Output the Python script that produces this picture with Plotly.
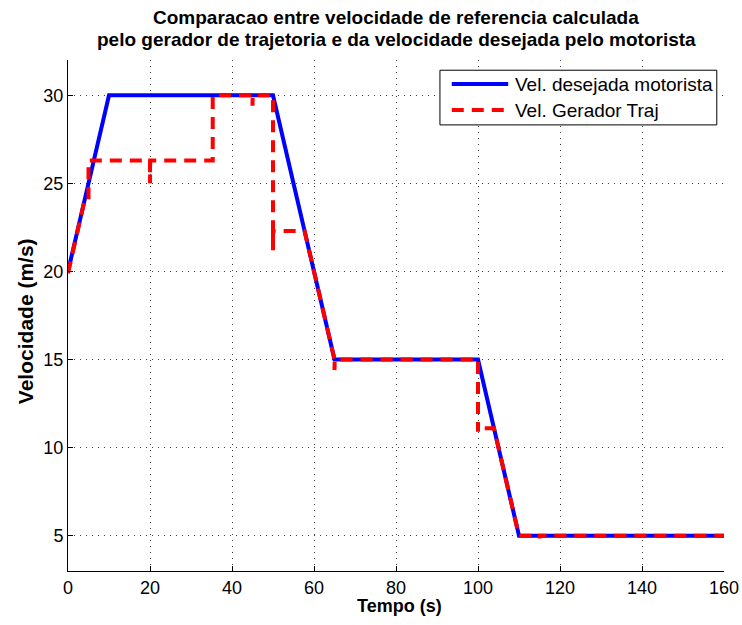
import plotly.graph_objects as go

# Driver's desired speed profile (time in s, speed in m/s)
t_motorista = [0, 10, 50, 65, 100, 110, 160]
v_motorista = [20, 30, 30, 15, 15, 5, 5]

# Reference speed produced by the trajectory generator
t_gerador = [0, 4.0, 5.0, 5.0, 20.0, 20.0, 20.05, 35.3, 35.3, 45.0, 45.0, 45.05, 50.0,
             50.0, 50.0, 57.7, 65.0, 65.0, 65.05, 100.0, 100.0, 100.0, 103.9, 110.0,
             115.0, 115.0, 115.05, 160.0]
v_gerador = [19.9, 24.0, 24.0, 26.3, 26.3, 25.0, 26.3, 26.3, 30.0, 30.0, 29.4, 30.0, 30.0,
             21.2, 22.3, 22.3, 15.0, 14.4, 15.0, 15.0, 10.9, 11.1, 11.1, 5.0,
             5.0, 4.85, 5.0, 5.0]

x_ticks = [0, 20, 40, 60, 80, 100, 120, 140, 160]
y_ticks = [5, 10, 15, 20, 25, 30]

title_lines = ["Comparacao entre velocidade de referencia calculada",
               "pelo gerador de trajetoria e da velocidade desejada pelo motorista"]
x_label = "Tempo (s)"
y_label = "Velocidade (m/s)"
legend_names = ["Vel. desejada motorista", "Vel. Gerador Traj"]

FONT = "Liberation Sans, Arial, Helvetica, sans-serif"
BLUE = "#0000ff"
RED = "#ff0000"
RED_DASH = "12px,8px"

fig = go.Figure()
fig.add_trace(go.Scatter(
    x=t_motorista, y=v_motorista, mode="lines",
    name=legend_names[0], showlegend=False,
    line=dict(color=BLUE, width=4),
))
fig.add_trace(go.Scatter(
    x=t_gerador, y=v_gerador, mode="lines",
    name=legend_names[1], showlegend=False,
    line=dict(color=RED, width=4, dash=RED_DASH),
))

axis_common = dict(
    showline=True, linecolor="black", linewidth=1,
    ticks="inside", ticklen=5, tickcolor="black",
    showgrid=True, gridcolor="rgba(0,0,0,0.75)", gridwidth=1, griddash="1px,5px",
    zeroline=False, mirror=False, automargin=False,
    tickfont=dict(family=FONT, size=18, color="black"),
)

# Two-line title and axis labels placed as annotations
annotations = [
    dict(text=f"<b>{title_lines[0]}</b>", x=0.5, y=1.083, font_size=19),
    dict(text=f"<b>{title_lines[1]}</b>", x=0.5, y=1.040, font_size=19),
    dict(text=f"<b>{x_label}</b>", x=0.506, y=-0.0685, font_size=18),
    dict(text=f"<b>{y_label}</b>", x=-0.0655, y=0.489, textangle=-90, font_size=21),
]
for a in annotations:
    size = a.pop("font_size")
    a.update(xref="paper", yref="paper", xanchor="center", yanchor="middle",
             showarrow=False, font=dict(family=FONT, size=size, color="black"))

# Boxed legend in the upper-right corner of the axes
leg_box = dict(x0=0.567, x1=0.989, y0=0.873, y1=0.980)
leg_rows = [0.953, 0.902]
leg_line_x = (0.585, 0.671)
leg_text_x = 0.678
leg_styles = [dict(color=BLUE, width=4), dict(color=RED, width=4, dash=RED_DASH)]

shapes = [dict(type="rect", xref="paper", yref="paper", fillcolor="white",
               line=dict(color="black", width=1), layer="above", **leg_box)]
for row_y, style, name in zip(leg_rows, leg_styles, legend_names):
    shapes.append(dict(type="line", xref="paper", yref="paper", layer="above",
                       x0=leg_line_x[0], x1=leg_line_x[1], y0=row_y, y1=row_y,
                       line=style))
    annotations.append(dict(text=name, xref="paper", yref="paper",
                            x=leg_text_x, y=row_y, xanchor="left", yanchor="middle",
                            showarrow=False,
                            font=dict(family=FONT, size=19, color="black")))

fig.update_layout(
    width=742, height=625,
    margin=dict(l=68, r=18, t=60, b=54),
    paper_bgcolor="white", plot_bgcolor="white",
    xaxis=dict(range=[0, 160], tickvals=x_ticks, **axis_common),
    yaxis=dict(range=[3, 32], tickvals=y_ticks, **axis_common),
    annotations=annotations,
    shapes=shapes,
    showlegend=False,
)

fig.write_html("out.html")
